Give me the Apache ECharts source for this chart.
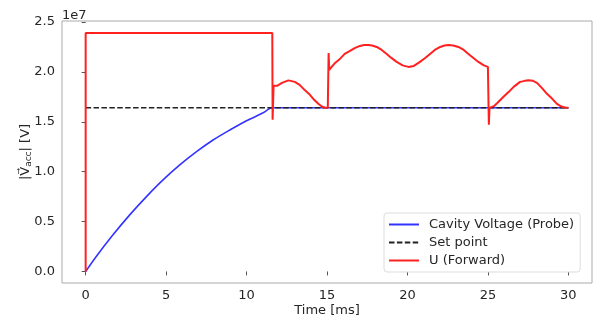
<!DOCTYPE html>
<html>
<head>
<meta charset="utf-8">
<script src="https://cdn.jsdelivr.net/npm/echarts@6/dist/echarts.min.js"></script>
<style>
html,body{margin:0;padding:0;background:#fff;}
#chart{width:594px;height:322px;}
</style>
</head>
<body>
<div id="chart"></div>
<script>
// ---- data (time in ms, voltage in V) ----
const seriesNames = ['Cavity Voltage (Probe)', 'Set point', 'U (Forward)'];
const xTicks = [0, 5, 10, 15, 20, 25, 30];
const yTicks = [0, 0.5e7, 1.0e7, 1.5e7, 2.0e7, 2.5e7];

const tProbe = [0, 0.66, 1.7, 2.74, 3.78, 4.81, 5.85, 6.89, 7.92, 8.96, 10.0, 11.03, 11.6, 15, 20, 25, 30];
const vProbe = [0, 0.15e7, 0.367e7, 0.567e7, 0.75e7, 0.917e7, 1.067e7, 1.2e7, 1.317e7, 1.417e7, 1.51e7, 1.59e7, 1.64e7, 1.64e7, 1.64e7, 1.64e7, 1.64e7];

const tSet = [0, 30];
const vSet = [1.64e7, 1.64e7];

const tFwd = [0, 0, 11.6, 11.62, 11.68, 11.75, 11.9, 12.2, 12.6, 13.0, 13.3, 13.6, 13.94, 14.2, 14.46, 14.7, 14.9, 15.05,
  15.1, 15.14, 15.2, 15.29, 15.5, 15.8, 16.1, 16.43, 16.75, 17.05, 17.3, 17.57, 17.8, 18.09, 18.4, 18.71, 19.0, 19.33, 19.7,
  20.06, 20.4, 20.78, 21.1, 21.4, 21.7, 22.03, 22.3, 22.55, 22.85, 23.17, 23.5, 23.79, 24.1, 24.41, 24.75, 25.0, 25.03,
  25.06, 25.1, 25.2, 25.4, 25.6, 25.97, 26.3, 26.6, 27.0, 27.3, 27.52, 27.8, 28.05, 28.35, 28.67, 29.0, 29.29, 29.6, 29.85, 30.0];
const vFwd = [0, 2.39e7, 2.39e7, 1.52e7, 1.86e7, 1.87e7, 1.86e7, 1.89e7, 1.915e7, 1.90e7, 1.87e7, 1.82e7, 1.77e7, 1.72e7, 1.68e7, 1.65e7, 1.64e7, 1.64e7,
  2.19e7, 2.02e7, 2.03e7, 2.05e7, 2.09e7, 2.13e7, 2.18e7, 2.21e7, 2.24e7, 2.26e7, 2.27e7, 2.27e7, 2.265e7, 2.25e7, 2.22e7, 2.18e7, 2.14e7, 2.10e7, 2.065e7,
  2.05e7, 2.06e7, 2.10e7, 2.14e7, 2.18e7, 2.22e7, 2.25e7, 2.265e7, 2.27e7, 2.265e7, 2.25e7, 2.22e7, 2.18e7, 2.14e7, 2.10e7, 2.065e7, 2.05e7, 2.04e7,
  1.47e7, 1.64e7, 1.64e7, 1.66e7, 1.69e7, 1.75e7, 1.80e7, 1.85e7, 1.90e7, 1.91e7, 1.915e7, 1.91e7, 1.89e7, 1.84e7, 1.78e7, 1.73e7, 1.68e7, 1.65e7, 1.64e7, 1.64e7];

function zip(a, b) { return a.map((v, i) => [v, b[i]]); }

const font = 'DejaVu Sans';
const textColor = '#262626';

const chart = echarts.init(document.getElementById('chart'), null, {renderer: 'canvas'});
chart.setOption({
  animation: false,
  backgroundColor: '#fff',
  textStyle: {fontFamily: font},
  grid: {left: 62, right: 2, top: 21, bottom: 39, show: true, borderColor: '#aaa', borderWidth: 1, backgroundColor: 'transparent'},
  xAxis: {
    type: 'value', min: -1.47, max: 31.47,
    name: 'Time [ms]', nameLocation: 'middle', nameGap: 21, nameMoveOverlap: false,
    nameTextStyle: {fontSize: 13, color: textColor, fontFamily: font},
    axisLine: {show: false},
    axisTick: {show: true, length: 4, lineStyle: {color: '#555'}, customValues: xTicks},
    axisLabel: {fontSize: 13, color: textColor, fontFamily: font, margin: 6, customValues: xTicks, formatter: v => String(v)},
    splitLine: {show: false}
  },
  yAxis: {
    type: 'value', min: -0.116e7, max: 2.51e7,
    name: '|V\u20D7{sub|acc}| [V]', nameLocation: 'middle', nameGap: 29, nameRotate: 90, nameMoveOverlap: false,
    nameTextStyle: {fontSize: 13, color: textColor, fontFamily: font,
      rich: {sub: {fontSize: 9, color: textColor, fontFamily: font, verticalAlign: 'bottom', padding: [6, 0, 0, 0]}}},
    axisLine: {show: false},
    axisTick: {show: true, length: 4, lineStyle: {color: '#555'}, customValues: yTicks},
    axisLabel: {fontSize: 13, color: textColor, fontFamily: font, margin: 7, customValues: yTicks, formatter: v => (v / 1e7).toFixed(1)},
    splitLine: {show: false}
  },
  legend: {
    orient: 'vertical', left: 384, top: 213,
    backgroundColor: 'rgba(255,255,255,0.9)', borderColor: '#ddd', borderWidth: 1, borderRadius: 3,
    padding: [5, 6, 5, 4], itemGap: 5, itemWidth: 30, itemHeight: 14,
    itemStyle: {opacity: 0},
    textStyle: {fontSize: 13, color: textColor, fontFamily: font, padding: [0, 0, 0, 5]},
    data: seriesNames
  },
  graphic: [{type: 'text', left: 62, top: 9, style: {text: '1e7', fontSize: 13, fill: textColor, fontFamily: font}}],
  series: [
    {name: seriesNames[0], type: 'line', data: zip(tProbe, vProbe), symbol: 'none', smooth: 0.3,
     lineStyle: {color: '#3333ff', width: 1.6}, itemStyle: {color: '#3333ff'}, z: 2},
    {name: seriesNames[1], type: 'line', data: zip(tSet, vSet), symbol: 'none',
     lineStyle: {color: '#222', width: 1.5, type: [5.5, 2.4]}, itemStyle: {color: '#222'}, z: 3},
    {name: seriesNames[2], type: 'line', data: zip(tFwd, vFwd), symbol: 'none',
     lineStyle: {color: '#ff2020', width: 2}, itemStyle: {color: '#ff2020'}, z: 4}
  ]
});
</script>
</body>
</html>
